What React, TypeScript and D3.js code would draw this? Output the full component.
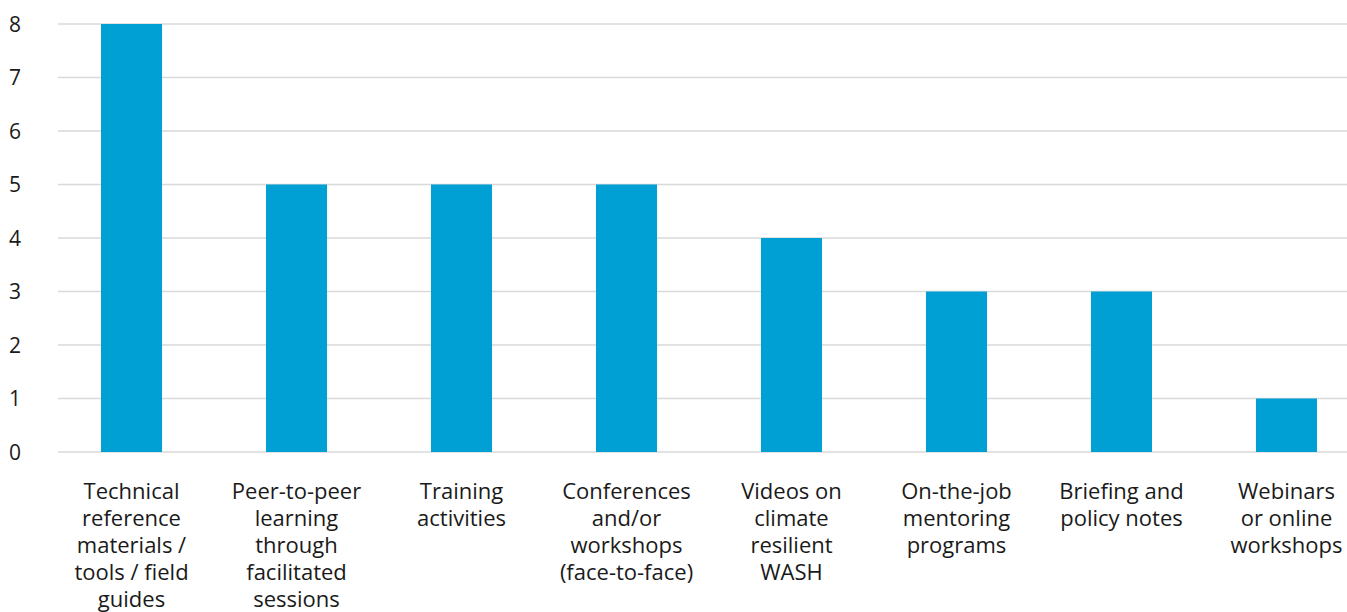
import React, { useEffect, useRef } from "react";
import * as d3 from "d3";

const categories = [
  "Technical reference materials / tools / field guides",
  "Peer-to-peer learning through facilitated sessions",
  "Training activities",
  "Conferences and/or workshops (face-to-face)",
  "Videos on climate resilient WASH",
  "On-the-job mentoring programs",
  "Briefing and policy notes",
  "Webinars or online workshops",
];

const labelLines = [
  ["Technical", "reference", "materials /", "tools / field", "guides"],
  ["Peer-to-peer", "learning", "through", "facilitated", "sessions"],
  ["Training", "activities"],
  ["Conferences", "and/or", "workshops", "(face-to-face)"],
  ["Videos on", "climate", "resilient", "WASH"],
  ["On-the-job", "mentoring", "programs"],
  ["Briefing and", "policy notes"],
  ["Webinars", "or online", "workshops"],
];

const values = [8, 5, 5, 5, 4, 3, 3, 1];
const yTicks = [0, 1, 2, 3, 4, 5, 6, 7, 8];

const W = 1347;
const H = 612;

export default function App() {
  const ref = useRef<SVGSVGElement>(null);

  useEffect(() => {
    const svg = d3.select(ref.current);
    svg.selectAll("*").remove();

    const gridLeft = 58, gridRight = W;
    const x = d3.scaleBand<string>().domain(categories).range([68, 1350]).paddingInner(0.63).paddingOuter(0.2);
    const y = d3.scaleLinear().domain([0, 8]).range([452, 24]);

    const font = "'Open Sans', 'Noto Sans', sans-serif";

    svg.append("g").selectAll("line").data(yTicks).join("line")
      .attr("x1", gridLeft).attr("x2", gridRight)
      .attr("y1", (d) => y(d)).attr("y2", (d) => y(d))
      .attr("stroke", "#d9d9d9").attr("stroke-width", 1.5);

    svg.append("g").selectAll("text").data(yTicks).join("text")
      .attr("x", 21).attr("y", (d) => y(d))
      .attr("dy", "0.36em")
      .attr("text-anchor", "end")
      .style("font-family", font).style("font-size", "21px").attr("fill", "#1a1a1a")
      .text((d) => d);

    svg.append("g").selectAll("rect").data(values).join("rect")
      .attr("x", (d, i) => x(categories[i])!)
      .attr("y", (d) => y(d))
      .attr("width", x.bandwidth())
      .attr("height", (d) => y(0) - y(d))
      .attr("fill", "#00a0d4");

    const labels = svg.append("g").selectAll("text").data(labelLines).join("text")
      .attr("x", (d, i) => x(categories[i])! + x.bandwidth() / 2)
      .attr("y", 499)
      .attr("text-anchor", "middle")
      .style("font-family", font).style("font-size", "22px").attr("fill", "#1a1a1a");

    labels.selectAll("tspan").data((d) => d).join("tspan")
      .attr("x", function () { return (this.parentNode as SVGTextElement).getAttribute("x"); })
      .attr("dy", (d, i) => (i === 0 ? 0 : 27))
      .text((d) => d);
  }, []);

  return (
    <svg ref={ref} width={W} height={H} style={{ position: "absolute", left: 0, top: 0, background: "#fff" }} />
  );
}
